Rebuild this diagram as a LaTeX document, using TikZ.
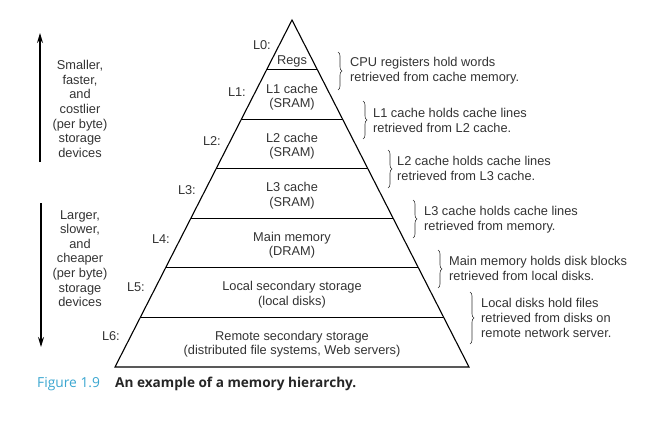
\documentclass[tikz,border=0pt]{standalone}
\usepackage{fontspec}
\setmainfont{Liberation Sans}
\newfontfamily\capfont{Open Sans}
\usetikzlibrary{decorations.pathreplacing,arrows.meta,calc}
\definecolor{figblue}{HTML}{3AA6D0}
\definecolor{txtgray}{HTML}{333333}
\begin{document}
\begin{tikzpicture}[x=1pt,y=-1pt,
  txt/.style={text=txtgray, font=\fontsize{12.8}{14.6}\selectfont, align=center, inner sep=0pt},
  ltxt/.style={txt, align=left, anchor=west},
  lvl/.style={txt, anchor=east},
  edgeline/.style={line width=1.1pt},
  brc/.style={decorate, decoration={brace, amplitude=4pt}, line width=0.6pt, txtgray},
  bigarrow/.style={line width=1.4pt, -{Stealth[length=10pt,width=6pt]}}]
\useasboundingbox (0,0) rectangle (660,420);
% pyramid
\coordinate (apex) at (292,20);
\coordinate (bl) at (115,367);
\coordinate (br) at (469,367);
\draw[edgeline, line join=miter] (bl) -- (apex) -- (br) -- cycle;
\foreach \k in {1,...,6} \draw[edgeline] ($(apex)!\k/7!(bl)$) -- ($(apex)!\k/7!(br)$);
% level contents
\node[txt] (t0) at (292,61) {Regs};
\node[txt] (t1) at (292,97) {L1 cache\\(SRAM)};
\node[txt] (t2) at (292,146) {L2 cache\\(SRAM)};
\node[txt] (t3) at (292,195.5) {L3 cache\\(SRAM)};
\node[txt] (t4) at (292,245) {Main memory\\(DRAM)};
\node[txt] (t5) at (292,294.5) {Local secondary storage\\(local disks)};
\node[txt] (t6) at (292,344) {Remote secondary storage\\(distributed file systems, Web servers)};
% level labels
\node[lvl] (l0) at (271,45) {L0:};
\node[lvl] (l1) at (246,92) {L1:};
\node[lvl] (l2) at (221,141) {L2:};
\node[lvl] (l3) at (196,190) {L3:};
\node[lvl] (l4) at (170,239) {L4:};
\node[lvl] (l5) at (145,287) {L5:};
\node[lvl] (l6) at (120,336) {L6:};
% braces
\coordinate (b1a) at (338,52);  \coordinate (b1b) at (338,90);
\coordinate (b2a) at (363,101); \coordinate (b2b) at (363,139);
\coordinate (b3a) at (388,150); \coordinate (b3b) at (388,188);
\coordinate (b4a) at (413,200); \coordinate (b4b) at (413,238);
\coordinate (b5a) at (438,250); \coordinate (b5b) at (438,288);
\coordinate (b6a) at (470,292); \coordinate (b6b) at (470,344);
\draw[brc] (b1a) -- (b1b);
\draw[brc] (b2a) -- (b2b);
\draw[brc] (b3a) -- (b3b);
\draw[brc] (b4a) -- (b4b);
\draw[brc] (b5a) -- (b5b);
\draw[brc] (b6a) -- (b6b);
\node[ltxt] (d1) at (350,70.5) {CPU registers hold words\\retrieved from cache memory.};
\node[ltxt] (d2) at (373,120.5) {L1 cache holds cache lines\\retrieved from L2 cache.};
\node[ltxt] (d3) at (397,168.5) {L2 cache holds cache lines\\retrieved from L3 cache.};
\node[ltxt] (d4) at (424,219.5) {L3 cache holds cache lines\\retrieved from memory.};
\node[ltxt] (d5) at (449,268.5) {Main memory holds disk blocks\\retrieved from local disks.};
\node[ltxt] (d6) at (481,318) {Local disks hold files\\retrieved from disks on\\remote network server.};
% side arrows
\coordinate (upS) at (40,162); \coordinate (upE) at (40,33);
\draw[bigarrow] (upS) -- (upE);
\node[txt] (s1) at (80,109) {Smaller,\\faster,\\and\\costlier\\(per byte)\\storage\\devices};
\coordinate (dnS) at (41,203); \coordinate (dnE) at (41,347);
\draw[bigarrow] (dnS) -- (dnE);
\node[txt] (s2) at (80,258.5) {Larger,\\slower,\\and\\cheaper\\(per byte)\\storage\\devices};
% caption
\node[anchor=west, inner sep=0pt, text=figblue, font=\capfont\fontsize{13.8}{16}\selectfont] (fig) at (37,384) {Figure 1.9};
\node[anchor=west, inner sep=0pt, text=black!85, font=\capfont\bfseries\fontsize{13.6}{16}\selectfont] (cap) at (115,384) {An example of a memory hierarchy.};
\end{tikzpicture}
\end{document}
